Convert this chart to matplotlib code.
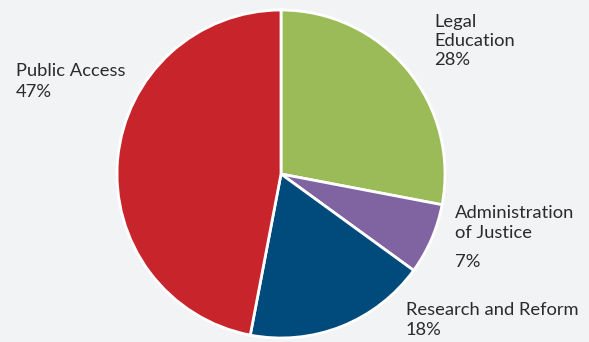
import matplotlib
matplotlib.use("Agg")
import matplotlib.pyplot as plt

labels = ["Legal\nEducation", "Administration\nof Justice", "Research and Reform", "Public Access"]
values = [28, 7, 18, 47]
colors = ["#9BBB59", "#8064A2", "#004B7C", "#C8242B"]

W, H = 589, 342
fig = plt.figure(figsize=(W/100, H/100), dpi=100)
fig.patch.set_facecolor("#F2F3F5")
cx, cy, r = 281, 174, 164
ax = fig.add_axes([(cx-r)/W, (H-cy-r)/H, 2*r/W, 2*r/H])
ax.pie(values, colors=colors, startangle=90, counterclock=False,
       wedgeprops=dict(edgecolor="white", linewidth=2))
ax.set_aspect("equal")
ax.set_xlim(-1, 1); ax.set_ylim(-1, 1)
ax.axis("off")

fs = 13.2
tc = "#2b2b2b"
def t(x, y, s, ls=1.25):
    fig.text(x/W, 1 - y/H, s, fontsize=fs, color=tc, va="top", ha="left",
             family="Lato", linespacing=ls)

t(434, 14, labels[0] + "\n" + f"{values[0]}%", 1.22)
t(16, 63, labels[3] + "\n" + f"{values[3]}%", 1.38)
t(455, 205, labels[1], 1.28)
t(455, 254, f"{values[1]}%")
t(406, 302, labels[2] + "\n" + f"{values[2]}%", 1.28)

fig.savefig("out.png", dpi=100, facecolor=fig.get_facecolor())
